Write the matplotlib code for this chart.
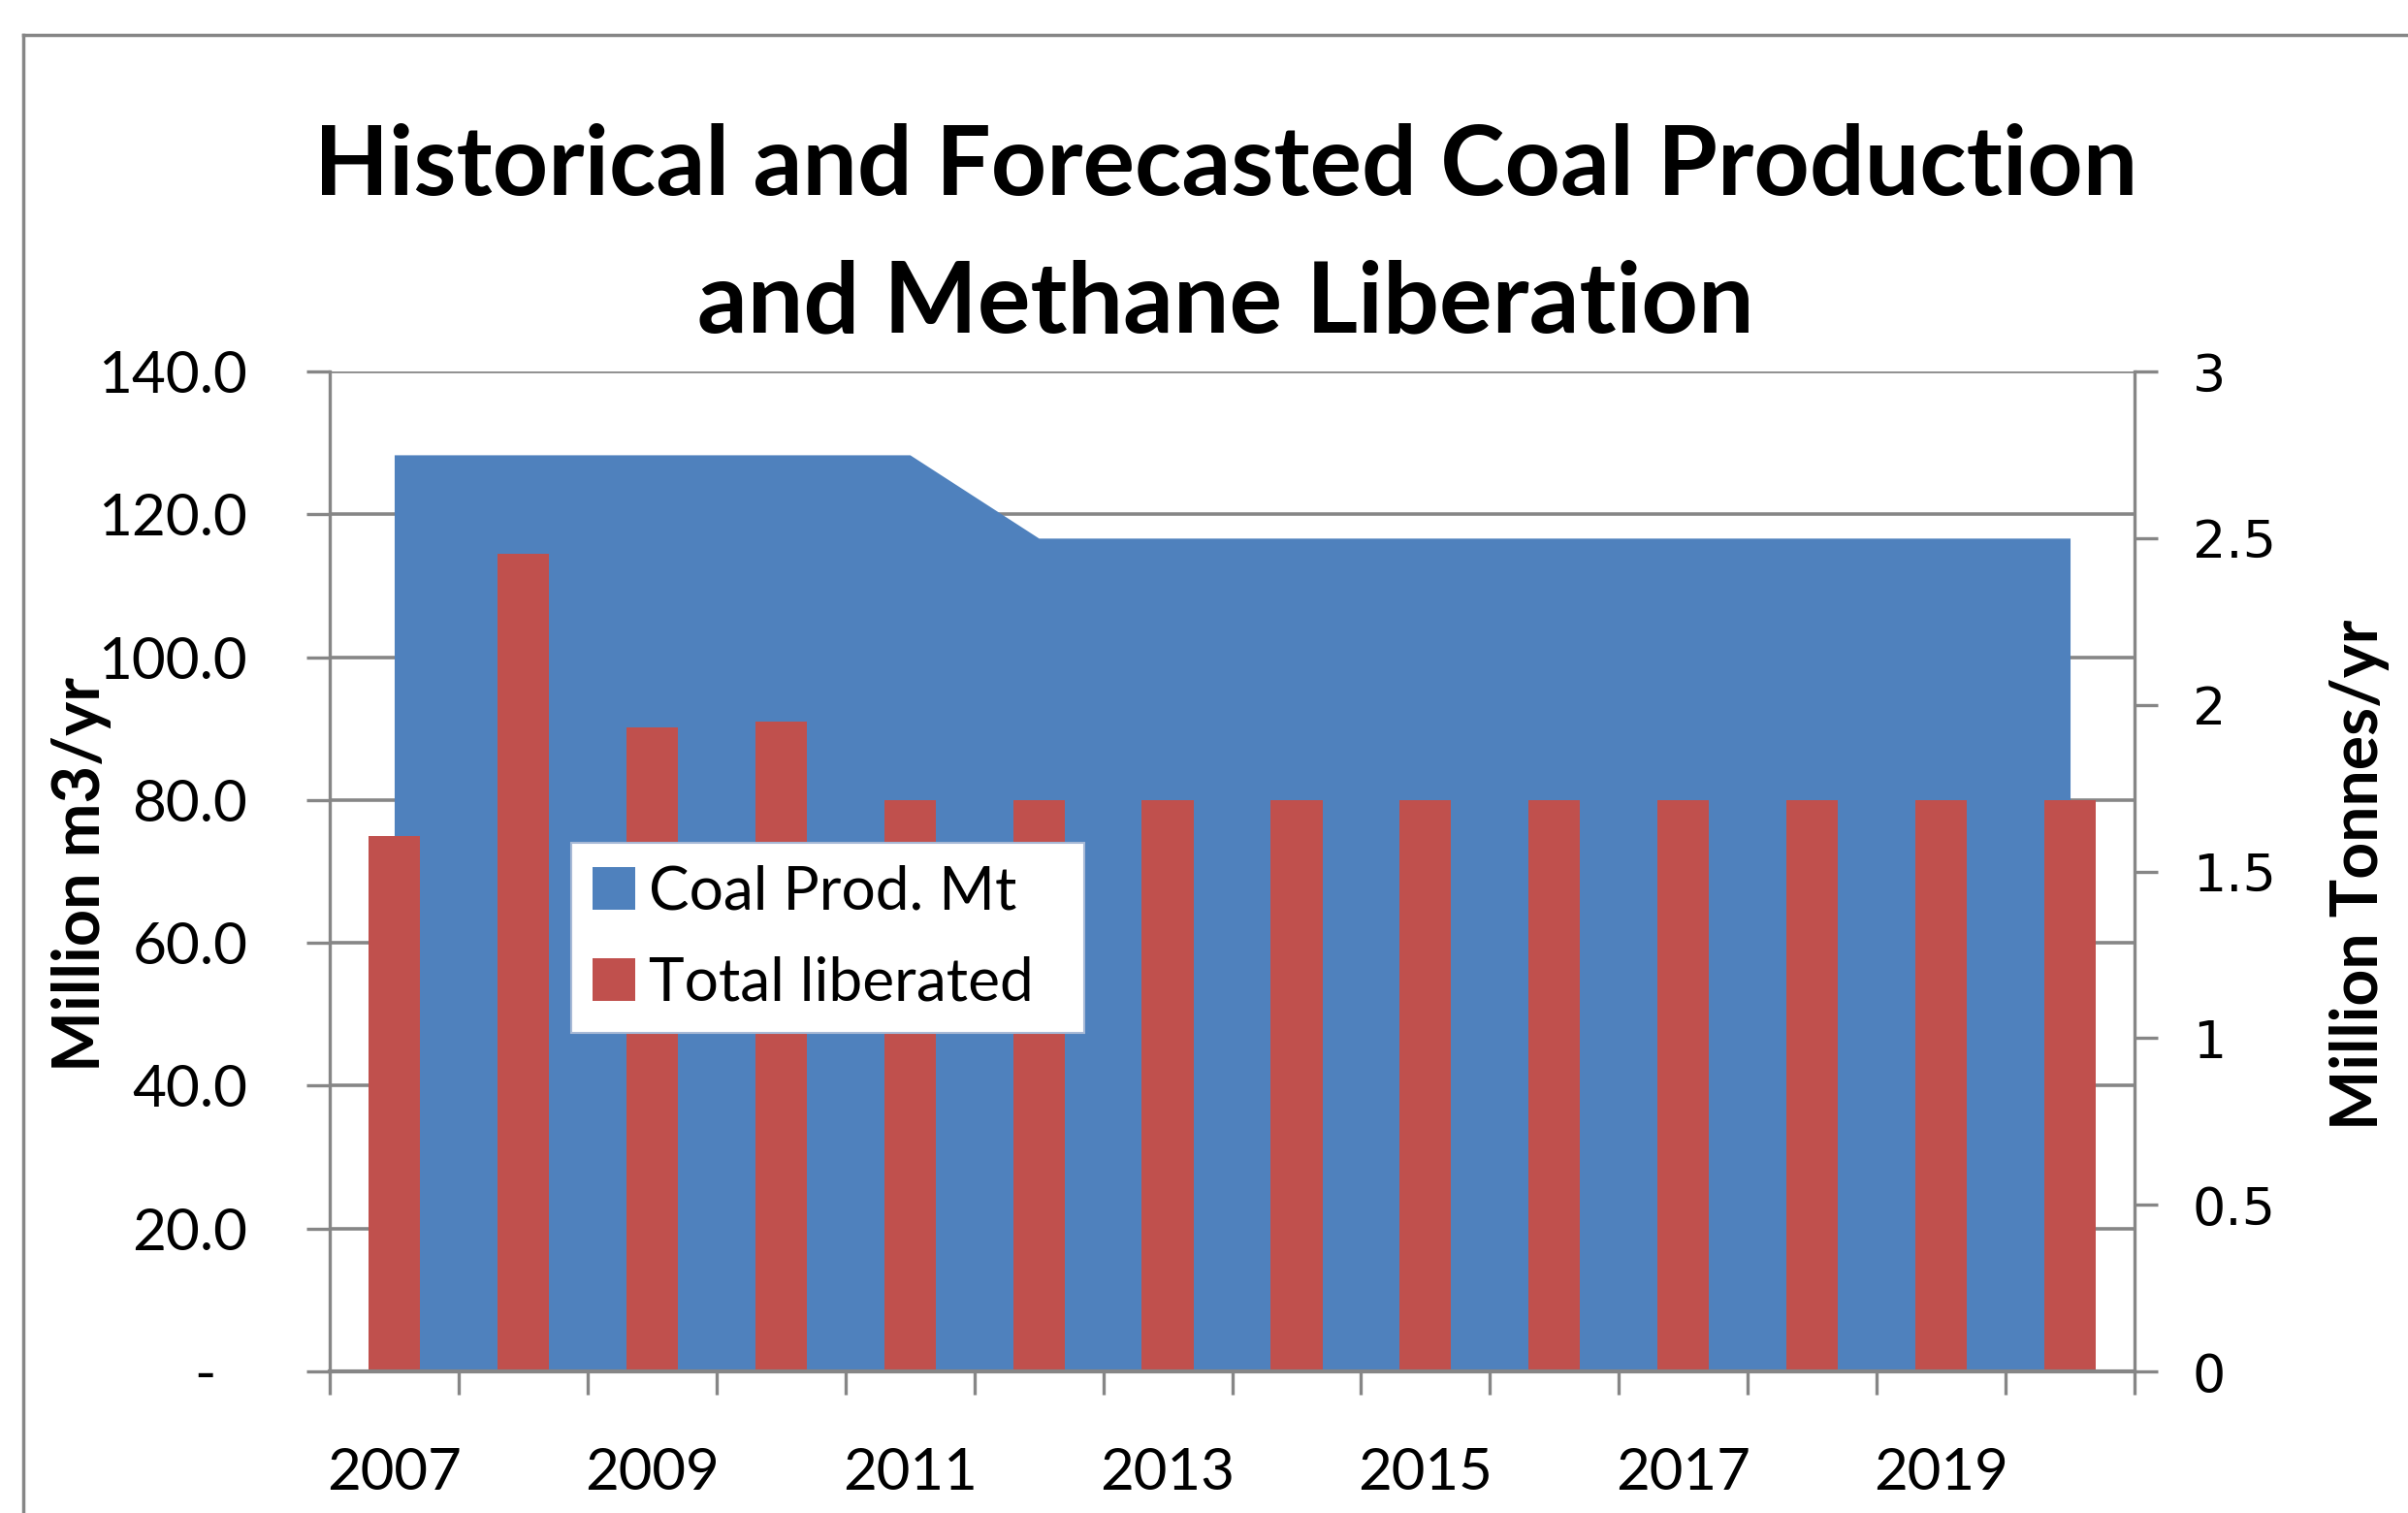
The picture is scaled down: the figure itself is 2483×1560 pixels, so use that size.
import matplotlib
matplotlib.use("Agg")
import matplotlib.pyplot as plt
from matplotlib.patches import Patch
from matplotlib.lines import Line2D
from matplotlib.transforms import ScaledTranslation
import numpy as np

# ---------------- data ----------------
years = [2007, 2008, 2009, 2010, 2011, 2012, 2013, 2014, 2015, 2016, 2017, 2018, 2019, 2020]
coal_prod_mt = [2.75, 2.75, 2.75, 2.75, 2.75, 2.5, 2.5, 2.5, 2.5, 2.5, 2.5, 2.5, 2.5, 2.5]
total_liberated = [75.0, 114.5, 90.2, 91.0, 80.0, 80.0, 80.0, 80.0, 80.0, 80.0, 80.0, 80.0, 80.0, 80.0]
left_ticks = [0, 20, 40, 60, 80, 100, 120, 140]
left_tick_labels = ["-", "20.0", "40.0", "60.0", "80.0", "100.0", "120.0", "140.0"]
right_ticks = [0, 0.5, 1, 1.5, 2, 2.5, 3]
right_tick_labels = ["0", "0.5", "1", "1.5", "2", "2.5", "3"]
x_tick_years = [2007, 2009, 2011, 2013, 2015, 2017, 2019]
series_names = ["Coal Prod. Mt", "Total liberated"]
title_lines = ["Historical and Forecasted Coal Production", "and Methane Liberation"]
left_label = "Million m3/yr"
right_label = "Million Tonnes/yr"

BLUE = "#4F81BD"
RED = "#C0504D"
GRAY = "#868686"
FONT = "Lato"

plt.rcParams['font.family'] = [FONT, 'DejaVu Sans']

W, H = 2483, 1560
fig = plt.figure(figsize=(W / 100, H / 100), dpi=100)
fig.patch.set_facecolor("white")
renderer = fig.canvas.get_renderer()


def fx(px):
    return px / W


def fy(py):
    return 1 - py / H


def size_for(s, target_px, weight="normal", family=FONT, vertical=False):
    t = fig.text(0, 0, s, fontsize=40, fontweight=weight, family=family,
                 rotation=90 if vertical else 0)
    bb = t.get_window_extent(renderer)
    cur = bb.height if vertical else bb.width
    t.remove()
    return 40 * target_px / cur


# chart border (cropped frame)
fig.add_artist(Line2D([fx(24), fx(24)], [0, fy(36)], color=GRAY, lw=2.5))
fig.add_artist(Line2D([fx(24), 1], [fy(36), fy(36)], color=GRAY, lw=2.5))

# ---------------- axes ----------------
L, R, T, B = 340, 2201, 383, 1414
ax = fig.add_axes([fx(L), fy(B), (R - L) / W, (B - T) / H])
ax2 = ax.twinx()   # secondary axis: coal production area
ax3 = ax.twinx()   # primary scale, drawn on top: bars

x = np.arange(len(years))
ax.set_xlim(-0.5, len(years) - 0.5)
ax.set_ylim(0, 140)
ax3.set_ylim(0, 140)
ax2.set_ylim(0, 3)

ax2.fill_between(x, coal_prod_mt, 0, color=BLUE, lw=0)
ax3.bar(x, total_liberated, width=0.4, color=RED, lw=0)

# gridlines
ax.set_axisbelow(True)
ax.yaxis.grid(True, color=GRAY, lw=2.6)
ax.patch.set_visible(False)

# spines
for s in ["top", "right", "bottom"]:
    ax.spines[s].set_visible(False)
ax.spines["left"].set_color(GRAY)
ax.spines["left"].set_linewidth(2.4)
for s in ["top", "left", "bottom"]:
    ax2.spines[s].set_visible(False)
ax2.spines["right"].set_color(GRAY)
ax2.spines["right"].set_linewidth(2.4)
for s in ["top", "left", "right"]:
    ax3.spines[s].set_visible(False)
ax3.spines["bottom"].set_color(GRAY)
ax3.spines["bottom"].set_linewidth(3.0)
ax3.yaxis.set_visible(False)

tick_fs = size_for("140.0", 154)
xtick_fs = size_for("2007", 139)
rtick_fs = size_for("2.5", 86, family="DejaVu Sans")

# left axis ticks
ax.set_yticks(left_ticks, left_tick_labels)
ax.tick_params(axis="y", direction="out", length=17, width=2.4, color=GRAY,
               pad=44, labelsize=tick_fs)

# x axis: labels centred on categories, tick marks between categories
ax.set_xticks(x[::2], [str(y) for y in x_tick_years])
ax.set_xticks(np.arange(-0.5, len(years), 1.0), minor=True)
ax.tick_params(axis="x", which="major", length=0, pad=56, labelsize=xtick_fs)
ax.tick_params(axis="x", which="minor", direction="out", length=17, width=2.4, color=GRAY)

# the "-" zero label sits a little left of the number column (accounting format)
zero_lbl = ax.yaxis.get_major_ticks()[0].label1
zero_lbl.set_transform(zero_lbl.get_transform() +
                       ScaledTranslation(-0.33, 0, fig.dpi_scale_trans))

# right axis ticks
ax2.set_yticks(right_ticks, right_tick_labels)
ax2.tick_params(axis="y", direction="out", length=17, width=2.4, color=GRAY,
                pad=26, labelsize=rtick_fs)
for lbl in ax2.get_yticklabels():
    lbl.set_fontfamily("DejaVu Sans")

# axis titles
ax.set_ylabel(left_label, fontsize=size_for(left_label, 407, "bold", vertical=True),
              fontweight="bold")
ax.yaxis.set_label_coords(-0.121, 0.497)
ax2.set_ylabel(right_label, fontsize=size_for(right_label, 526, "bold", vertical=True),
               fontweight="bold", rotation=90)
ax2.yaxis.set_label_coords(1.108, 0.497)

# chart title (two lines)
fig.text(fx(1264), fy(201), title_lines[0], ha="center", va="baseline",
         fontsize=size_for(title_lines[0], 1880, "bold"), fontweight="bold")
fig.text(fx(1264), fy(342), title_lines[1], ha="center", va="baseline",
         fontsize=size_for(title_lines[1], 1089, "bold"), fontweight="bold")

# legend
leg_fs = size_for(series_names[1], 397)
fs_px = leg_fs / 0.72
handles = [Patch(facecolor=BLUE, edgecolor="none"), Patch(facecolor=RED, edgecolor="none")]
leg_l, leg_t, leg_r, leg_b = 589, 869, 1118, 1058
leg = ax3.legend(handles, series_names, loc="upper left", mode="expand",
                 bbox_to_anchor=(fx(leg_l), fy(leg_b), (leg_r - leg_l) / W, (leg_b - leg_t) / H),
                 bbox_transform=fig.transFigure,
                 fontsize=leg_fs, frameon=True, fancybox=False, framealpha=1,
                 handlelength=44 / fs_px, handleheight=44 / fs_px,
                 handletextpad=14 / fs_px, borderpad=0.36, borderaxespad=0,
                 labelspacing=0.6)
leg.get_frame().set_edgecolor("#A7B9D6")
leg.get_frame().set_linewidth(1.5)
leg.set_zorder(10)

fig.savefig("out.png", dpi=100, facecolor="white")
